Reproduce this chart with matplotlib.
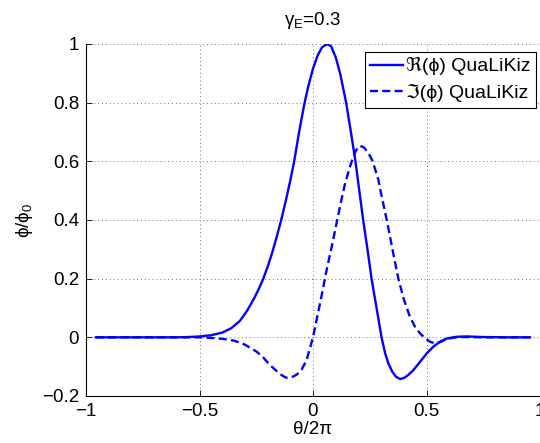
import numpy as np
import matplotlib
matplotlib.use("Agg")
from matplotlib import pyplot as plt

plt.rcParams['font.family'] = ['Liberation Sans', 'DejaVu Sans']
plt.rcParams['mathtext.fontset'] = 'custom'
plt.rcParams['mathtext.rm'] = 'Liberation Sans'
plt.rcParams['mathtext.it'] = 'Liberation Sans'
plt.rcParams['mathtext.fallback'] = 'stix'

# values
theta_re = [-0.956, -0.9, -0.8, -0.7, -0.6, -0.55, -0.5, -0.45, -0.4, -0.36,
            -0.322, -0.29, -0.26, -0.24, -0.22, -0.2, -0.18, -0.16, -0.14, -0.12,
            -0.1, -0.083, -0.06, -0.037, -0.02, 0.0, 0.02, 0.04, 0.062, 0.08,
            0.10, 0.12, 0.146, 0.167, 0.187, 0.204, 0.221, 0.24, 0.258, 0.28,
            0.302, 0.318, 0.332, 0.35, 0.365, 0.383, 0.40, 0.42, 0.442, 0.47,
            0.501, 0.53, 0.559, 0.59, 0.633, 0.68, 0.75, 0.85, 0.956]
phi_re = [0.0, 0.0, 0.0, 0.0, 0.0, 0.001, 0.003, 0.007, 0.016, 0.031,
          0.056, 0.091, 0.132, 0.163, 0.198, 0.24, 0.288, 0.342, 0.4, 0.465,
          0.535, 0.6, 0.705, 0.8, 0.858, 0.916, 0.96, 0.989, 1.0, 0.992,
          0.955, 0.898, 0.8, 0.7, 0.6, 0.5, 0.4, 0.3, 0.2, 0.1,
          0.0, -0.055, -0.089, -0.118, -0.134, -0.142, -0.139, -0.128, -0.112, -0.085,
          -0.055, -0.032, -0.015, -0.004, 0.002, 0.003, 0.001, 0.0, 0.0]

theta_im = [-0.956, -0.8, -0.6, -0.5, -0.45, -0.4, -0.35, -0.322, -0.3, -0.278,
            -0.248, -0.22, -0.189, -0.17, -0.15, -0.13, -0.116, -0.1, -0.085, -0.07,
            -0.05, -0.028, -0.013, 0.0, 0.02, 0.04, 0.06, 0.08, 0.10, 0.12,
            0.14, 0.16, 0.175, 0.19, 0.207, 0.225, 0.244, 0.26, 0.273, 0.288,
            0.3, 0.325, 0.35, 0.376, 0.40, 0.427, 0.45, 0.471, 0.49, 0.515,
            0.54, 0.56, 0.58, 0.60, 0.63, 0.66, 0.75, 0.956]
phi_im = [0.0, 0.0, 0.0, 0.0, -0.002, -0.005, -0.011, -0.018, -0.025, -0.035,
          -0.049, -0.068, -0.095, -0.108, -0.122, -0.133, -0.138, -0.137, -0.133, -0.126,
          -0.11, -0.077, -0.036, 0.0, 0.075, 0.15, 0.23, 0.3, 0.375, 0.45,
          0.52, 0.575, 0.61, 0.638, 0.653, 0.647, 0.628, 0.605, 0.575, 0.537,
          0.49, 0.4, 0.3, 0.2, 0.13, 0.07, 0.035, 0.014, 0.0, -0.015,
          -0.021, -0.016, -0.009, -0.004, 0.0, 0.001, 0.0, 0.0]

xticks = [-1, -0.5, 0, 0.5, 1]
xticklabels = ['\u22121', '\u22120.5', '0', '0.5', '1']
yticks = [-0.2, 0, 0.2, 0.4, 0.6, 0.8, 1]
yticklabels = ['\u22120.2', '0', '0.2', '0.4', '0.6', '0.8', '1']

fs = 13.5
fig = plt.figure(figsize=(5.4, 4.43), dpi=100)
ax = fig.add_axes([86/540, 47/443, 1 - 86/540, 352/443])

ax.plot(theta_re, phi_re, color='b', lw=1.7, label='\u211c(\u03d5) QuaLiKiz')
ax.plot(theta_im, phi_im, color='b', lw=1.7, ls=(0, (3.4, 1.8)),
        label='\u2111(\u03d5) QuaLiKiz')

ax.set_xlim(-1, 1)
ax.set_ylim(-0.2, 1)
ax.set_xticks(xticks)
ax.set_xticklabels(xticklabels, fontsize=fs)
ax.set_yticks(yticks)
ax.set_yticklabels(yticklabels, fontsize=fs)
ax.tick_params(direction='in', length=4, width=0.6, pad=5)
ax.spines['top'].set_visible(False)
ax.spines['right'].set_visible(False)
ax.spines['left'].set_linewidth(0.8)
ax.spines['bottom'].set_linewidth(0.8)
ax.grid(True, color='0.45', lw=0.7, ls=(0, (1, 3)))
ax.set_axisbelow(True)

ax.set_xlabel('\u03b8/2\u03c0', fontsize=fs, labelpad=1)
ax.set_ylabel('\u03d5/\u03d5$_0$', fontsize=fs, labelpad=5)
ax.set_title('\u03b3$_\\mathregular{E}$=0.3', fontsize=fs, pad=14)

leg = ax.legend(loc='upper right', bbox_to_anchor=(536/540, 391/443),
                bbox_transform=fig.transFigure, borderaxespad=0,
                fontsize=14, handlelength=1.68, handletextpad=0.15,
                borderpad=0.28, labelspacing=0.45, fancybox=False,
                framealpha=1, edgecolor='k')
leg.get_frame().set_linewidth(0.8)

fig.savefig('out.png', dpi=100)
